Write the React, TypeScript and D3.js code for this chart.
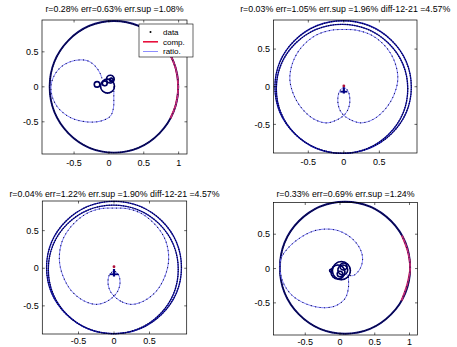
import React, { useEffect, useRef } from "react";
import * as d3 from "d3";

type Pt = [number, number];

// ---------- texts & ticks ----------
const titles = [
  "r=0.28% err=0.63% err.sup =1.08%",
  "r=0.03% err=1.05% err.sup =1.96% diff-12-21 =4.57%",
  "r=0.04% err=1.22% err.sup =1.90% diff-12-21 =4.57%",
  "r=0.33% err=0.69% err.sup =1.24%",
];
const xTicksWide = [-0.5, 0, 0.5, 1];
const xTicksNarrow = [-0.5, 0, 0.5];
const yTicks = [-0.5, 0, 0.5];
const legendLabels = ["data", "comp.", "ratio."];

// ---------- panel 1 ----------
const bigRing1: [number, number, number, number] = [0.072, 0, 0.922, 0.94];
const comp1: Pt[] = [[0.882, -0.45], [0.961, -0.25], [0.994, 0], [0.961, 0.25], [0.892, 0.43]];
const loop1: Pt[] = [
  [0.07, 0.0], [0.07, -0.15], [0.065, -0.3], [0.02, -0.42], [-0.12, -0.49], [-0.33, -0.5],
  [-0.55, -0.44], [-0.72, -0.31], [-0.81, -0.15], [-0.83, 0.02], [-0.78, 0.17], [-0.68, 0.29],
  [-0.55, 0.36], [-0.42, 0.385], [-0.3, 0.37], [-0.2, 0.3], [-0.13, 0.2], [-0.1, 0.12],
];
const cluster1: [number, number, number][] = [
  [-0.02, 0.01, 0.1], [-0.17, 0.035, 0.04], [0.02, 0.11, 0.055], [0.035, 0.1, 0.025], [-0.06, 0.05, 0.035],
];

// ---------- panel 2 ----------
const rings2: [number, number, number, number][] = [
  [-0.01, -0.004, 0.96, 0.88],
  [-0.025, -0.028, 0.925, 0.857],
];
const lima2: Pt[] = [
  [0, -0.38], [0.12, -0.45], [0.25, -0.48], [0.42, -0.43], [0.58, -0.3], [0.7, -0.12], [0.76, 0.1],
  [0.72, 0.32], [0.6, 0.52], [0.4, 0.68], [0.18, 0.75], [0, 0.76], [-0.18, 0.75], [-0.4, 0.68],
  [-0.6, 0.52], [-0.72, 0.32], [-0.76, 0.1], [-0.7, -0.12], [-0.58, -0.3], [-0.42, -0.43],
  [-0.25, -0.48], [-0.12, -0.45], [0, -0.38], [0.06, -0.3], [0.085, -0.18], [0.06, -0.06],
  [0, -0.01], [-0.06, -0.06], [-0.085, -0.18], [-0.06, -0.3],
];
const stem2: Pt[] = [[0, -0.01], [0, -0.09]];
const bar2: Pt[] = [[-0.05, -0.066], [0.05, -0.066]];
const tip2: Pt = [0, 0.01];

// ---------- panel 3 ----------
const rings3: [number, number, number, number][] = [
  [0.0, 0.01, 0.95, 0.88],
  [-0.01, -0.015, 0.915, 0.855],
];
const lima3: Pt[] = [
  [0, -0.37], [0.12, -0.45], [0.26, -0.48], [0.43, -0.43], [0.6, -0.3], [0.72, -0.1], [0.77, 0.12],
  [0.73, 0.36], [0.6, 0.56], [0.4, 0.72], [0.2, 0.79], [0, 0.8], [-0.2, 0.79], [-0.4, 0.72],
  [-0.6, 0.56], [-0.73, 0.36], [-0.77, 0.12], [-0.72, -0.1], [-0.6, -0.3], [-0.43, -0.43],
  [-0.26, -0.48], [-0.12, -0.45], [0, -0.37], [0.06, -0.29], [0.085, -0.18], [0.06, -0.08],
  [0, -0.04], [-0.06, -0.08], [-0.085, -0.18], [-0.06, -0.29],
];
const stem3: Pt[] = [[0, -0.01], [0, -0.11]];
const bar3: Pt[] = [[-0.06, -0.08], [0.06, -0.08]];
const tip3: Pt = [0, 0.02];

// ---------- panel 4 ----------
const bigRing4: [number, number, number, number] = [0.072, 0.012, 0.937, 0.962];
const comp4: Pt[] = [[0.883, -0.47], [0.97, -0.22], [1.009, 0.01], [0.975, 0.25], [0.891, 0.48]];
const loop4: Pt[] = [
  [0.12, -0.13], [0.12, -0.29], [0.07, -0.44], [-0.07, -0.545], [-0.26, -0.57], [-0.5, -0.51],
  [-0.69, -0.39], [-0.81, -0.22], [-0.86, -0.05], [-0.85, 0.14], [-0.76, 0.285], [-0.6, 0.43],
  [-0.4, 0.54], [-0.21, 0.575], [-0.02, 0.55], [0.17, 0.44], [0.29, 0.285], [0.325, 0.14],
  [0.29, 0.0], [0.195, -0.1], [0.09, -0.09],
];
const cluster4: [number, number, number][] = [
  [0.02, -0.03, 0.13], [-0.03, -0.05, 0.1], [0.04, -0.02, 0.07], [0.0, -0.08, 0.04],
  [0.05, 0.03, 0.05], [-0.13, -0.03, 0.02],
];

// ---------- layout (pixels) ----------
const layout = [
  { box: [42, 20, 187, 154], xDom: [-0.96, 1.12], yDom: [-0.96, 0.955], xTicks: xTicksWide, titleY: 12, labelY: 166 },
  { box: [273.5, 20, 417, 153], xDom: [-0.99, 1.03], yDom: [-0.88, 0.886], xTicks: xTicksNarrow, titleY: 12, labelY: 165 },
  { box: [42.3, 201, 186.7, 334], xDom: [-1.01, 1.024], yDom: [-0.874, 0.894], xTicks: xTicksNarrow, titleY: 197, labelY: 344 },
  { box: [273.5, 202.5, 417.5, 335], xDom: [-0.957, 1.115], yDom: [-0.968, 0.962], xTicks: xTicksWide, titleY: 197, labelY: 344.5 },
];

const FONT = "'Liberation Sans', Arial, Helvetica, sans-serif";

function addDots(el: SVGGeometryElement, spacing: number, r: number, color = "#000") {
  const L = el.getTotalLength();
  const parent = d3.select(el.parentNode as SVGGElement);
  for (let s = 0; s < L; s += spacing) {
    const p = el.getPointAtLength(s);
    parent.append("circle").attr("cx", p.x).attr("cy", p.y).attr("r", r).attr("fill", color);
  }
}

export default function App() {
  const ref = useRef<SVGSVGElement>(null);
  useEffect(() => {
    const svg = d3.select(ref.current!);
    svg.selectAll("*").remove();
    svg.append("rect").attr("width", 457).attr("height", 347).attr("fill", "#fff");

    layout.forEach((L, i) => {
      const [x0, y0, x1, y1] = L.box;
      const x = d3.scaleLinear().domain(L.xDom).range([x0, x1]);
      const y = d3.scaleLinear().domain(L.yDom).range([y1, y0]);
      const g = svg.append("g");
      const lineOpen = d3.line<Pt>().x(d => x(d[0])).y(d => y(d[1])).curve(d3.curveCatmullRom.alpha(0.5));
      const lineClosed = d3.line<Pt>().x(d => x(d[0])).y(d => y(d[1])).curve(d3.curveCatmullRomClosed.alpha(0.5));
      const lineStraight = d3.line<Pt>().x(d => x(d[0])).y(d => y(d[1]));

      const ellipse = (r: [number, number, number, number], stroke: string, w: number, spacing: number, dr: number) => {
        const e = g.append("ellipse")
          .attr("cx", x(r[0])).attr("cy", y(r[1]))
          .attr("rx", x(r[2]) - x(0)).attr("ry", y(0) - y(r[3]))
          .attr("fill", "none").attr("stroke", stroke).attr("stroke-width", w);
        addDots(e.node() as SVGGeometryElement, spacing, dr, "#000030");
      };
      const curve = (pts: Pt[], closed: boolean, stroke: string, w: number, spacing: number, dr: number) => {
        const p = g.append("path").attr("d", (closed ? lineClosed : lineOpen)(pts)!)
          .attr("fill", "none").attr("stroke", stroke).attr("stroke-width", w);
        if (spacing > 0) addDots(p.node() as SVGGeometryElement, spacing, dr, "#101040");
      };
      const cluster = (cs: [number, number, number][]) => {
        cs.forEach(c => {
          const e = g.append("circle").attr("cx", x(c[0])).attr("cy", y(c[1])).attr("r", x(c[2]) - x(0))
            .attr("fill", "none").attr("stroke", "#00007a").attr("stroke-width", 1.6);
          addDots(e.node() as SVGGeometryElement, 1.8, 0.55, "#000030");
        });
      };
      const marker = (stem: Pt[], bar: Pt[], tip: Pt) => {
        g.append("path").attr("d", lineStraight(stem)!).attr("stroke", "#000080").attr("stroke-width", 2.2).attr("fill", "none");
        g.append("path").attr("d", lineStraight(bar)!).attr("stroke", "#000080").attr("stroke-width", 1.8).attr("fill", "none");
        g.append("circle").attr("cx", x(tip[0])).attr("cy", y(tip[1])).attr("r", 1.4).attr("fill", "#b0103a");
      };

      if (i === 0 || i === 3) {
        const big = i === 0 ? bigRing1 : bigRing4;
        const comp = i === 0 ? comp1 : comp4;
        const loop = i === 0 ? loop1 : loop4;
        const cl = i === 0 ? cluster1 : cluster4;
        ellipse(big, "#10107a", 1.9, 1.8, 0.65);
        curve(comp, false, "#e8103c", 1.8, 0, 0);
        curve(comp, false, "#6060ff", 0.5, 5, 0.55);
        curve(loop, false, "#7272ff", 0.9, 4.5, 0.6);
        cluster(cl);
      } else {
        const rings = i === 1 ? rings2 : rings3;
        const lima = i === 1 ? lima2 : lima3;
        rings.forEach(r => ellipse(r, "#1818b8", 1.3, 2.4, 0.65));
        curve(lima, true, "#7272ff", 0.9, 4.3, 0.6);
        if (i === 1) marker(stem2, bar2, tip2); else marker(stem3, bar3, tip3);
      }

      // axes box
      g.append("rect").attr("x", x0).attr("y", y0).attr("width", x1 - x0).attr("height", y1 - y0)
        .attr("fill", "none").attr("stroke", "#000").attr("stroke-width", 0.7);
      const tl = 2.5;
      L.xTicks.forEach(t => {
        const px = x(t);
        g.append("line").attr("x1", px).attr("x2", px).attr("y1", y1).attr("y2", y1 - tl).attr("stroke", "#000").attr("stroke-width", 0.6);
        g.append("line").attr("x1", px).attr("x2", px).attr("y1", y0).attr("y2", y0 + tl).attr("stroke", "#000").attr("stroke-width", 0.6);
        g.append("text").attr("x", px).attr("y", L.labelY).attr("text-anchor", "middle")
          .attr("font-family", FONT).attr("font-size", 9).attr("fill", "#000").text(String(t));
      });
      yTicks.forEach(t => {
        const py = y(t);
        g.append("line").attr("x1", x0).attr("x2", x0 + tl).attr("y1", py).attr("y2", py).attr("stroke", "#000").attr("stroke-width", 0.6);
        g.append("line").attr("x1", x1).attr("x2", x1 - tl).attr("y1", py).attr("y2", py).attr("stroke", "#000").attr("stroke-width", 0.6);
        g.append("text").attr("x", x0 - 3.5).attr("y", py + 3.2).attr("text-anchor", "end")
          .attr("font-family", FONT).attr("font-size", 9).attr("fill", "#000").text(String(t));
      });
      g.append("text").attr("x", (x0 + x1) / 2).attr("y", L.titleY).attr("text-anchor", "middle")
        .attr("font-family", FONT).attr("font-size", 8.8).attr("fill", "#000").text(titles[i]);

      if (i === 0) {
        const lg = svg.append("g");
        lg.append("rect").attr("x", 139).attr("y", 24).attr("width", 54).attr("height", 33)
          .attr("fill", "#fff").attr("stroke", "#000").attr("stroke-width", 0.6);
        const rows = [32, 41.8, 51.5];
        lg.append("circle").attr("cx", 150.5).attr("cy", rows[0]).attr("r", 1).attr("fill", "#000");
        lg.append("line").attr("x1", 143).attr("x2", 158).attr("y1", rows[1]).attr("y2", rows[1]).attr("stroke", "#e8103c").attr("stroke-width", 1.6);
        lg.append("line").attr("x1", 143).attr("x2", 158).attr("y1", rows[2]).attr("y2", rows[2]).attr("stroke", "#7070ff").attr("stroke-width", 0.8);
        legendLabels.forEach((lab, k) => {
          lg.append("text").attr("x", 163).attr("y", rows[k] + 2.8).attr("font-family", FONT)
            .attr("font-size", 8).attr("fill", "#000").text(lab);
        });
      }
    });
  }, []);
  return (
    <svg ref={ref} width={457} height={347} style={{ position: "absolute", left: 0, top: 0 }} />
  );
}
